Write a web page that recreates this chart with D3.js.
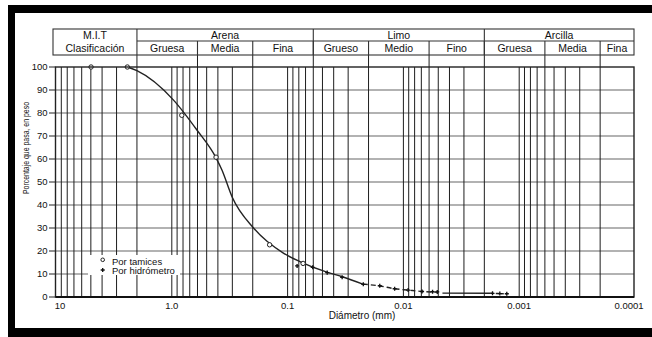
<!DOCTYPE html>
<html>
<head>
<meta charset="utf-8">
<script src="https://cdn.jsdelivr.net/npm/d3@7"></script>
<style>
body { margin: 0; background: #fff; }
svg { display: block; font-family: "Liberation Sans", Arial, Helvetica, sans-serif; }
</style>
</head>
<body>
<script>
// M.I.T classification bands (mm)
const mainBands = ["Arena", "Limo", "Arcilla"]
const mainBounds = [2, 0.06, 0.002, 0.0001]
const subBands = ["Gruesa", "Media", "Fina", "Grueso", "Medio", "Fino", "Gruesa", "Media", "Fina"]
const subBounds = [2, 0.6, 0.2, 0.06, 0.02, 0.006, 0.002, 0.0006, 0.0002, 0.0001]

const xTicks = [10, 1, 0.1, 0.01, 0.001, 0.0001]
const xTickLabels = ["10", "1.0", "0.1", "0.01", "0.001", "0.0001"]
const yTicks = [0, 10, 20, 30, 40, 50, 60, 70, 80, 90, 100]

// por tamices (sieve)
const sieveD = [4.98, 2.42, 0.82, 0.415, 0.143, 0.0735]
const sievePct = [100, 100, 79, 60.8, 22.7, 14.6]

// por hidrometro
const hydroD = [0.0828, 0.0607, 0.0455, 0.0338, 0.0222, 0.016, 0.0119, 0.0091, 0.0069, 0.0056, 0.0051, 0.0017, 0.00147, 0.00128]
const hydroPct = [13.5, 12.9, 10.6, 8.6, 5.5, 4.9, 3.6, 3.0, 2.4, 2.3, 2.2, 1.6, 1.5, 1.4]

// drawn curve: solid part, dashed part, solid tail, dashed end
const curveD = [2.42, 2.0, 0.966, 0.607, 0.416, 0.369, 0.302, 0.196, 0.108, 0.0775, 0.0471, 0.0338, 0.0224]
const curvePct = [100, 98.4, 85.6, 72.6, 60.6, 55.2, 43.6, 29.9, 19, 15.3, 11, 8.8, 5.6]
const dashD = [0.0224, 0.016, 0.0119, 0.0091, 0.0069, 0.0051]
const dashPct = [5.6, 4.8, 3.6, 3.0, 2.4, 2.1]
const tailD = [0.0046, 0.00176]
const tailPct = [1.7, 1.6]
const endD = [0.00176, 0.00128]
const endPct = [1.6, 1.4]

const width = 652, height = 337
const plot = { left: 55.5, right: 634, top: 67, bottom: 297 }
const ink = "#111"

const svg = d3.select("body").append("svg")
    .attr("width", width)
    .attr("height", height)

const x = d3.scaleLog().domain([10, 0.0001]).range([56, 635])
const y = d3.scaleLinear().domain([0, 100]).range([plot.bottom, plot.top])

const zip = (a, b) => a.map((d, i) => ({ d: d, p: b[i] }))

// vertical grid values, 1..9 per decade
let gridVals = []
for (let e = 0; e >= -4; e--) {
    for (let m = 1; m <= 9; m++) {
        let v = m * Math.pow(10, e)
        if (v < 10 && v > 0.0001) gridVals.push(v)
    }
}

// horizontal lines (gray)
svg.append("g").selectAll("line")
    .data(yTicks.filter(t => t > 0 && t < 100))
    .enter().append("line")
    .attr("x1", plot.left).attr("x2", plot.right)
    .attr("y1", d => y(d)).attr("y2", d => y(d))
    .attr("stroke", "#999")
    .attr("stroke-width", 1.6)

// vertical lines
svg.append("g").selectAll("line")
    .data(gridVals)
    .enter().append("line")
    .attr("x1", d => x(d)).attr("x2", d => x(d))
    .attr("y1", plot.top).attr("y2", plot.bottom)
    .attr("stroke", "#1e1e1e")
    .attr("stroke-width", 1)

// boundary lines through the gap row below the table
svg.append("g").selectAll("line")
    .data(subBounds.slice(0, -1))
    .enter().append("line")
    .attr("x1", d => x(d)).attr("x2", d => x(d))
    .attr("y1", 55).attr("y2", plot.top)
    .attr("stroke", "#1e1e1e")
    .attr("stroke-width", 1)

// classification table
const tbl = { left: 53, right: 634, top: 29, mid: 41, bottom: 55 }
const head = svg.append("g")
    .attr("stroke", "#333")
    .attr("stroke-width", 1.1)
    .attr("fill", "none")

head.append("rect")
    .attr("x", tbl.left).attr("y", tbl.top)
    .attr("width", tbl.right - tbl.left).attr("height", tbl.bottom - tbl.top)
head.append("line")
    .attr("x1", x(2)).attr("x2", tbl.right)
    .attr("y1", tbl.mid).attr("y2", tbl.mid)
head.selectAll(".main")
    .data(mainBounds.slice(0, -1))
    .enter().append("line")
    .attr("x1", d => x(d)).attr("x2", d => x(d))
    .attr("y1", tbl.top).attr("y2", tbl.bottom)
head.selectAll(".sub")
    .data(subBounds.slice(1, -1))
    .enter().append("line")
    .attr("x1", d => x(d)).attr("x2", d => x(d))
    .attr("y1", tbl.mid).attr("y2", tbl.bottom)

const cx = (a, b) => (Math.max(x(a), tbl.left) + Math.min(x(b), tbl.right)) / 2

const htext = svg.append("g")
    .attr("font-size", 10.5)
    .attr("fill", ink)
    .attr("text-anchor", "middle")

htext.append("text").attr("x", (tbl.left + x(2)) / 2).attr("y", 39).text("M.I.T")
htext.append("text").attr("x", (tbl.left + x(2)) / 2).attr("y", 52).text("Clasificación")

htext.selectAll(".mainlab")
    .data(mainBands)
    .enter().append("text")
    .attr("x", (d, i) => cx(mainBounds[i], mainBounds[i + 1]))
    .attr("y", 39)
    .text(d => d)

htext.selectAll(".sublab")
    .data(subBands)
    .enter().append("text")
    .attr("x", (d, i) => cx(subBounds[i], subBounds[i + 1]))
    .attr("y", 52)
    .text(d => d)

// legend box hides the grid
svg.append("rect")
    .attr("x", 88).attr("y", 255)
    .attr("width", 92).attr("height", 20)
    .attr("fill", "#fff")

const line = d3.line()
    .x(d => x(d.d))
    .y(d => y(d.p))
    .curve(d3.curveMonotoneX)

svg.append("path")
    .datum(zip(curveD, curvePct))
    .attr("d", line)
    .attr("fill", "none")
    .attr("stroke", "#222")
    .attr("stroke-width", 1.4)

svg.append("path")
    .datum(zip(dashD, dashPct))
    .attr("d", line)
    .attr("fill", "none")
    .attr("stroke", "#222")
    .attr("stroke-width", 1.4)
    .attr("stroke-dasharray", "5,3")

svg.append("path")
    .datum(zip(tailD, tailPct))
    .attr("d", line)
    .attr("fill", "none")
    .attr("stroke", "#222")
    .attr("stroke-width", 1.4)

svg.append("path")
    .datum(zip(endD, endPct))
    .attr("d", line)
    .attr("fill", "none")
    .attr("stroke", "#222")
    .attr("stroke-width", 1.4)
    .attr("stroke-dasharray", "3,2")

// markers
svg.append("g").selectAll("circle")
    .data(zip(sieveD, sievePct))
    .enter().append("circle")
    .attr("cx", d => x(d.d))
    .attr("cy", d => y(d.p))
    .attr("r", 2.2)
    .attr("fill", "#fff")
    .attr("stroke", "#222")
    .attr("stroke-width", 1)

const cross = d3.symbol().type(d3.symbolCross).size(9)

svg.append("g").selectAll("path")
    .data(zip(hydroD, hydroPct))
    .enter().append("path")
    .attr("d", cross)
    .attr("transform", d => "translate(" + x(d.d) + "," + y(d.p) + ")")
    .attr("fill", ink)

// legend
svg.append("circle")
    .attr("cx", 102.7).attr("cy", 259.8).attr("r", 1.8)
    .attr("fill", "#fff").attr("stroke", "#222").attr("stroke-width", 1)
svg.append("path")
    .attr("d", cross)
    .attr("transform", "translate(102.7,270)")
    .attr("fill", ink)
svg.append("text")
    .attr("x", 112).attr("y", 264.5)
    .attr("font-size", 9.5).attr("fill", ink)
    .text("Por tamices")
svg.append("text")
    .attr("x", 112).attr("y", 274)
    .attr("font-size", 9.5).attr("fill", ink)
    .text("Por hidrómetro")

// plot frame
svg.append("rect")
    .attr("x", plot.left).attr("y", plot.top)
    .attr("width", plot.right - plot.left).attr("height", plot.bottom - plot.top)
    .attr("fill", "none")
    .attr("stroke", "#222")
    .attr("stroke-width", 1.4)
svg.append("line")
    .attr("x1", plot.left).attr("x2", plot.right)
    .attr("y1", plot.bottom).attr("y2", plot.bottom)
    .attr("stroke", ink)
    .attr("stroke-width", 2.2)

// y axis ticks and labels
const yax = svg.append("g")
yax.selectAll("line")
    .data(yTicks)
    .enter().append("line")
    .attr("x1", 49).attr("x2", plot.left)
    .attr("y1", d => y(d)).attr("y2", d => y(d))
    .attr("stroke", "#222")
yax.selectAll("text")
    .data(yTicks)
    .enter().append("text")
    .attr("x", 47.5)
    .attr("y", d => y(d) + 3.3)
    .attr("text-anchor", "end")
    .attr("font-size", 9.5)
    .attr("fill", ink)
    .text(d => d)

// x axis labels
svg.append("g").selectAll("text")
    .data(xTicks)
    .enter().append("text")
    .attr("x", d => Math.max(60, Math.min(629, x(d))))
    .attr("y", 308.5)
    .attr("text-anchor", "middle")
    .attr("font-size", 9.5)
    .attr("fill", ink)
    .text((d, i) => xTickLabels[i])

svg.append("text")
    .attr("x", 362).attr("y", 318.5)
    .attr("text-anchor", "middle")
    .attr("font-size", 10)
    .attr("fill", ink)
    .text("Diámetro (mm)")

svg.append("text")
    .attr("transform", "translate(28.5,148) rotate(-90)")
    .attr("text-anchor", "middle")
    .attr("font-size", 9)
    .attr("textLength", 92)
    .attr("lengthAdjust", "spacingAndGlyphs")
    .attr("fill", ink)
    .text("Porcentaje que pasa, en peso")

// black frame of the picture
svg.append("rect").attr("x", 8).attr("y", 5).attr("width", 644).attr("height", 8).attr("fill", "#000")
svg.append("rect").attr("x", 8).attr("y", 5).attr("width", 7).attr("height", 332).attr("fill", "#000")
svg.append("rect").attr("x", 8).attr("y", 328).attr("width", 644).attr("height", 9).attr("fill", "#000")
</script>
</body>
</html>
